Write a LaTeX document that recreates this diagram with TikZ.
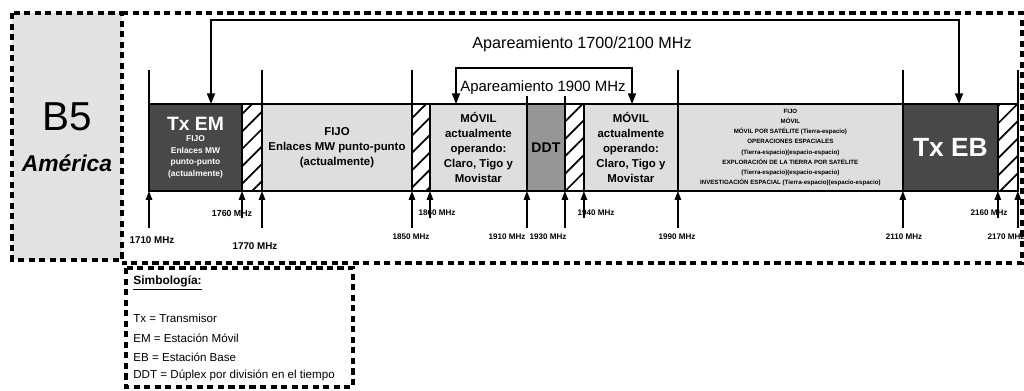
\documentclass[tikz,border=0pt]{standalone}
\usepackage{fontspec}
\setmainfont{Liberation Sans}
\usetikzlibrary{arrows.meta,positioning,patterns.meta}
\definecolor{bandLight}{RGB}{222,222,222}
\definecolor{bandDark}{RGB}{72,72,72}
\definecolor{bandMid}{RGB}{150,150,150}
\definecolor{boxGrey}{RGB}{226,226,226}

\begin{document}
\begin{tikzpicture}[
  x=0.02cm, y=-0.02cm,
  node distance=0pt,
  block/.style={draw, line width=0.8pt, outer sep=0pt, inner sep=1pt, minimum height=1.74cm, align=center, font=\bfseries\fontsize{6.5}{8.5}\selectfont},
  light/.style={block, fill=bandLight},
  dark/.style={block, fill=bandDark, text=white},
  mid/.style={block, fill=bandMid},
  guard/.style={block, pattern={Lines[angle=45,distance=7pt,line width=1pt]}},
  tick/.style={line width=0.8pt},
  uparrow/.style={-{Triangle[length=5pt,width=3.6pt]}, line width=0.8pt},
  pair/.style={{Triangle[length=6pt,width=4.5pt]}-{Triangle[length=6pt,width=4.5pt]}, line width=0.9pt},
  pairtext/.style={inner sep=1pt, font=\fontsize{9.2}{10}\selectfont},
  freq/.style={inner sep=0pt, font=\bfseries\fontsize{4.6}{5.5}\selectfont},
  frame/.style={line width=2pt, dash pattern=on 3.5pt off 2.5pt},
  legend/.style={anchor=west, inner sep=0pt, font=\fontsize{6.6}{7.5}\selectfont}
]
  \useasboundingbox (0,0) rectangle (1024,391);

  \draw[frame, fill=boxGrey] (12,13) rectangle (122,260);
  \draw[frame] (122,13) -- (1022,13) -- (1022,263) -- (122,263);
  \draw[frame] (126,268) rectangle (353,387);

  \node[font=\fontsize{23}{24}\selectfont] (b5) at (67,117) {B5};
  \node[font=\bfseries\itshape\fontsize{13}{14}\selectfont] (america) at (67,163) {América};

  \node[dark, minimum width=1.86cm, font=\bfseries\fontsize{4.8}{6.6}\selectfont] (txem) at (195.5,147.5)
    {{\fontsize{11}{13}\selectfont Tx EM}\\ FIJO\\ Enlaces MW\\ punto-punto\\ (actualmente)};
  \node[guard, minimum width=0.4cm, right=of txem] (g1) {};
  \node[light, minimum width=3.0cm, right=of g1] (fijo) {FIJO\\ Enlaces MW punto-punto\\ (actualmente)};
  \node[guard, minimum width=0.36cm, right=of fijo] (g2) {};
  \node[light, minimum width=1.94cm, right=of g2] (movA) {MÓVIL\\ actualmente\\ operando:\\ Claro, Tigo y\\ Movistar};
  \node[mid, minimum width=0.76cm, font=\bfseries\fontsize{8}{9}\selectfont, right=of movA] (ddt) {DDT};
  \node[guard, minimum width=0.38cm, right=of ddt] (g3) {};
  \node[light, minimum width=1.88cm, right=of g3] (movB) {MÓVIL\\ actualmente\\ operando:\\ Claro, Tigo y\\ Movistar};
  \node[light, minimum width=4.5cm, font=\bfseries\fontsize{3.5}{5.7}\selectfont, right=of movB] (sat) {FIJO\\ MÓVIL\\ MÓVIL POR SATÉLITE (Tierra-espacio)\\ OPERACIONES ESPACIALES\\ (Tierra-espacio)(espacio-espacio)\\ EXPLORACIÓN DE LA TIERRA POR SATÉLITE\\ (Tierra-espacio)(espacio-espacio)\\ INVESTIGACIÓN ESPACIAL (Tierra-espacio)(espacio-espacio)};
  \node[dark, minimum width=1.9cm, font=\bfseries\fontsize{15}{16}\selectfont, right=of sat] (txeb) {Tx EB};
  \node[guard, minimum width=0.4cm, right=of txeb] (g4) {};

  \foreach \b in {txem.north west, fijo.north west, g2.north west, sat.north west, txeb.north west, g4.north east}
    \draw[tick] (\b) -- ++(0,-34);
  \foreach \b in {ddt.north west, g3.north west}
    \draw[tick] (\b) -- ++(0,-8);

  \foreach \b in {txem.south west, fijo.south west, g2.south west, ddt.south west, g3.south west, sat.south west, txeb.south west, g4.south east}
    \draw[uparrow] (\b) ++(0,37) -- (\b);
  \foreach \b in {g1.south west, movA.south west, movB.south west, g4.south west}
    \draw[uparrow] (\b) ++(0,27) -- (\b);

  \coordinate (bigL) at (211,20);
  \coordinate (bigR) at (959,20);
  \draw[pair] (txem.north -| bigL) -- (bigL) -- (bigR) -- (txeb.north -| bigR);
  \node[pairtext] (bigtxt) at (582,44) {Apareamiento 1700/2100 MHz};

  \coordinate (smallL) at (456,68);
  \coordinate (smallR) at (632,68);
  \draw[pair] (movA.north -| smallL) -- (smallL) -- (smallR) -- (movB.north -| smallR);
  \node[pairtext, font=\fontsize{8.5}{9}\selectfont] (smalltxt) at (543,88) {Apareamiento 1900 MHz};

  \node[freq, font=\bfseries\fontsize{5.6}{6.5}\selectfont] (l1710) at (152,240) {1710 MHz};
  \node[freq, font=\bfseries\fontsize{5}{6}\selectfont] (l1760) at (232,213) {1760 MHz};
  \node[freq, font=\bfseries\fontsize{5.6}{6.5}\selectfont] (l1770) at (255,246) {1770 MHz};
  \node[freq] (l1850) at (411,237) {1850 MHz};
  \node[freq] (l1860) at (437,213) {1860 MHz};
  \node[freq] (l1910) at (507,237) {1910 MHz};
  \node[freq] (l1930) at (548,237) {1930 MHz};
  \node[freq] (l1940) at (596,213) {1940 MHz};
  \node[freq] (l1990) at (677,237) {1990 MHz};
  \node[freq] (l2110) at (904,237) {2110 MHz};
  \node[freq] (l2160) at (989,213) {2160 MHz};
  \node[freq] (l2170) at (1006,237) {2170 MHz};

  \node[legend, font=\bfseries\fontsize{6.8}{8}\selectfont] (simb) at (133,283) {\underline{Simbología:}};
  \node[legend] (ltx) at (133,318) {Tx = Transmisor};
  \node[legend] (lem) at (133,338) {EM = Estación Móvil};
  \node[legend] (leb) at (133,357) {EB = Estación Base};
  \node[legend] (lddt) at (133,375) {DDT = Dúplex por división en el tiempo};
\end{tikzpicture}
\end{document}
